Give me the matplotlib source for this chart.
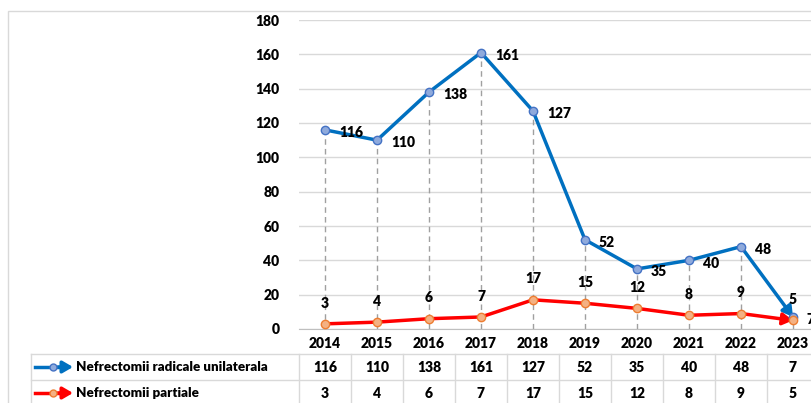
import matplotlib.pyplot as plt
from matplotlib.patches import Rectangle
from matplotlib.lines import Line2D

plt.rcParams['font.family'] = ['Lato', 'DejaVu Sans']
plt.rcParams['font.weight'] = 'heavy'

# --- Date ---
years = ['2014', '2015', '2016', '2017', '2018', '2019', '2020', '2021', '2022', '2023']
radicale = [116, 110, 138, 161, 127, 52, 35, 40, 48, 7]
partiale = [3, 4, 6, 7, 17, 15, 12, 8, 9, 5]
serie_nume = ['Nefrectomii radicale unilaterala', 'Nefrectomii partiale']

BLUE = '#0070C0'
RED = '#FF0000'
W, H = 812, 403
FW = 'heavy'
FS = 10

fig = plt.figure(figsize=(W / 100, H / 100), dpi=100)
# chenar exterior (graficul e taiat la dreapta/jos)
fig.patches.append(Rectangle((8 / W, -0.1), 1.0, 1 - 11 / H + 0.1, transform=fig.transFigure,
                             fill=False, edgecolor='#D9D9D9', lw=1.0))

ax = fig.add_axes([299 / W, 74 / H, 520 / W, 309 / H])
x = list(range(len(years)))

ax.set_ylim(0, 180)
ax.set_xlim(-0.5, len(years) - 0.5)
ax.set_yticks(range(0, 181, 20))
ax.grid(axis='y', color='#D9D9D9', lw=1.0)
ax.set_axisbelow(True)
for s in ['left', 'right', 'top']:
    ax.spines[s].set_visible(False)
ax.spines['bottom'].set_color('#BFBFBF')
ax.tick_params(length=0, labelsize=FS)
ax.tick_params(axis='y', pad=14)
ax.tick_params(axis='x', pad=6)
ax.set_xticks(x)
ax.set_xticklabels(years, fontweight=FW)
for lab in ax.get_yticklabels():
    lab.set_fontweight(FW)

ax.vlines(x, 0, radicale, colors='#A0A0A0', linestyles=(0, (4, 3)), lw=1.0, zorder=1)

def serie(vals, col, mfc, mec):
    ax.plot(x[:-1], vals[:-1], color=col, lw=2.5, zorder=3, solid_capstyle='round')
    ax.annotate('', xy=(x[-1], vals[-1]), xytext=(x[-2], vals[-2]),
                arrowprops=dict(arrowstyle='-|>,head_length=0.6,head_width=0.35', color=col,
                                lw=2.5, shrinkA=0, shrinkB=0), zorder=3)
    ax.plot(x, vals, ls='none', marker='o', ms=6, mfc=mfc, mec=mec, mew=1.0, zorder=4)

serie(radicale, BLUE, '#8FAADC', '#4472C4')
serie(partiale, RED, '#F4B183', '#ED7D31')

for i, v in enumerate(radicale):
    ax.annotate(str(v), (i, v), xytext=(10, -2), textcoords='offset points',
                ha='left', va='center', fontsize=FS, fontweight=FW, annotation_clip=False)
for i, v in enumerate(partiale):
    ax.annotate(str(v), (i, v), xytext=(0, 15), textcoords='offset points',
                ha='center', va='center', fontsize=FS, fontweight=FW)

# --- tabel de date ---
def fy(py):
    return (329 - py) / 309.0

def fx(px):
    return (px - 299) / 520.0

tr = ax.transAxes
kw = dict(transform=tr, clip_on=False, color='#D9D9D9', lw=1.0)
for py in [354, 380, 406]:
    ax.add_line(Line2D([fx(31), 1.0], [fy(py)] * 2, **kw))
for px in [31] + [299 + 52 * k for k in range(len(years) + 1)]:
    ax.add_line(Line2D([fx(px)] * 2, [fy(354), fy(406)], **kw))

rows = [radicale, partiale]
cols = [(BLUE, '#8FAADC', '#4472C4'), (RED, '#F4B183', '#ED7D31')]
for r, (vals, nume, (c, mfc, mec)) in enumerate(zip(rows, serie_nume, cols)):
    yc = fy(367 + 26 * r)
    ax.add_line(Line2D([fx(35), fx(60)], [yc, yc], transform=tr, clip_on=False, color=c, lw=2.5))
    ax.annotate('', xy=(fx(73), yc), xytext=(fx(58), yc), xycoords=tr, textcoords=tr,
                arrowprops=dict(arrowstyle='-|>,head_length=0.6,head_width=0.35', color=c,
                                lw=2.5, shrinkA=0, shrinkB=0))
    ax.add_line(Line2D([fx(53)], [yc], transform=tr, clip_on=False, marker='o', ms=5,
                       mfc=mfc, mec=mec, mew=1.0, zorder=5))
    ax.text(fx(76), yc, nume, transform=tr, ha='left', va='center', fontsize=9.6,
            fontweight=FW, clip_on=False)
    for i, v in enumerate(vals):
        ax.text((i + 0.5) / len(years), yc, str(v), transform=tr, ha='center', va='center',
                fontsize=FS, fontweight=FW, clip_on=False)

fig.savefig('out.png', dpi=100)
